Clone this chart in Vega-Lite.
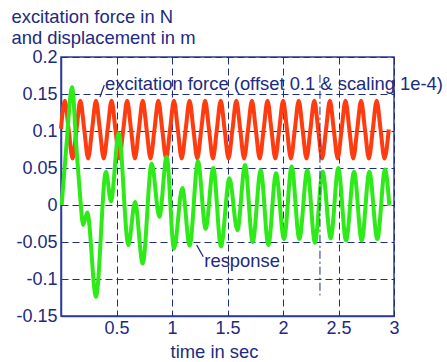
{
  "$schema": "https://vega.github.io/schema/vega-lite/v6.json",
  "width": 333,
  "height": 259,
  "autosize": {"type": "none"},
  "padding": {"left": 61, "top": 57, "right": 53, "bottom": 46},
  "background": "white",
  "config": {
    "font": "Liberation Sans",
    "view": {"stroke": "#2e3d94", "strokeWidth": 1.5}
  },
  "datasets": {
    "force": [
      {"t": 0.0, "v": 0.103},
      {"t": 0.034, "v": 0.141}, {"t": 0.069, "v": 0.102}, {"t": 0.104, "v": 0.063}, {"t": 0.1395, "v": 0.102},
      {"t": 0.1745, "v": 0.141}, {"t": 0.2095, "v": 0.102}, {"t": 0.2445, "v": 0.063}, {"t": 0.28, "v": 0.102},
      {"t": 0.315, "v": 0.141}, {"t": 0.35, "v": 0.102}, {"t": 0.385, "v": 0.063}, {"t": 0.4205, "v": 0.102},
      {"t": 0.4555, "v": 0.141}, {"t": 0.4905, "v": 0.102}, {"t": 0.5255, "v": 0.063}, {"t": 0.561, "v": 0.102},
      {"t": 0.596, "v": 0.141}, {"t": 0.631, "v": 0.102}, {"t": 0.666, "v": 0.063}, {"t": 0.7015, "v": 0.102},
      {"t": 0.7365, "v": 0.141}, {"t": 0.7715, "v": 0.102}, {"t": 0.8065, "v": 0.063}, {"t": 0.842, "v": 0.102},
      {"t": 0.877, "v": 0.141}, {"t": 0.912, "v": 0.102}, {"t": 0.947, "v": 0.063}, {"t": 0.9825, "v": 0.102},
      {"t": 1.0175, "v": 0.141}, {"t": 1.0525, "v": 0.102}, {"t": 1.0875, "v": 0.063}, {"t": 1.123, "v": 0.102},
      {"t": 1.158, "v": 0.141}, {"t": 1.193, "v": 0.102}, {"t": 1.228, "v": 0.063}, {"t": 1.2635, "v": 0.102},
      {"t": 1.2985, "v": 0.141}, {"t": 1.3335, "v": 0.102}, {"t": 1.3685, "v": 0.063}, {"t": 1.404, "v": 0.102},
      {"t": 1.439, "v": 0.141}, {"t": 1.474, "v": 0.102}, {"t": 1.509, "v": 0.063}, {"t": 1.5445, "v": 0.102},
      {"t": 1.5795, "v": 0.141}, {"t": 1.6145, "v": 0.102}, {"t": 1.6495, "v": 0.063}, {"t": 1.685, "v": 0.102},
      {"t": 1.72, "v": 0.141}, {"t": 1.755, "v": 0.102}, {"t": 1.79, "v": 0.063}, {"t": 1.8255, "v": 0.102},
      {"t": 1.8605, "v": 0.141}, {"t": 1.8955, "v": 0.102}, {"t": 1.9305, "v": 0.063}, {"t": 1.966, "v": 0.102},
      {"t": 2.001, "v": 0.141}, {"t": 2.036, "v": 0.102}, {"t": 2.071, "v": 0.063}, {"t": 2.1065, "v": 0.102},
      {"t": 2.1415, "v": 0.141}, {"t": 2.1765, "v": 0.102}, {"t": 2.2115, "v": 0.063}, {"t": 2.247, "v": 0.102},
      {"t": 2.282, "v": 0.141}, {"t": 2.317, "v": 0.102}, {"t": 2.352, "v": 0.063}, {"t": 2.3875, "v": 0.102},
      {"t": 2.4225, "v": 0.141}, {"t": 2.4575, "v": 0.102}, {"t": 2.4925, "v": 0.063}, {"t": 2.528, "v": 0.102},
      {"t": 2.563, "v": 0.141}, {"t": 2.598, "v": 0.102}, {"t": 2.633, "v": 0.063}, {"t": 2.6685, "v": 0.102},
      {"t": 2.7035, "v": 0.141}, {"t": 2.7385, "v": 0.102}, {"t": 2.7735, "v": 0.063}, {"t": 2.809, "v": 0.102},
      {"t": 2.844, "v": 0.141}, {"t": 2.879, "v": 0.102}, {"t": 2.914, "v": 0.063}, {"t": 2.953, "v": 0.102}
    ],
    "resp": [
      {"t": 0.006, "v": 0.0}, {"t": 0.048, "v": 0.079}, {"t": 0.1, "v": 0.159}, {"t": 0.138, "v": 0.079},
      {"t": 0.168, "v": 0.02}, {"t": 0.2, "v": -0.027}, {"t": 0.237, "v": -0.01}, {"t": 0.315, "v": -0.124},
      {"t": 0.405, "v": 0.045}, {"t": 0.45, "v": 0.005}, {"t": 0.52, "v": 0.097}, {"t": 0.607, "v": -0.054},
      {"t": 0.667, "v": 0.004}, {"t": 0.736, "v": -0.079}, {"t": 0.817, "v": 0.056}, {"t": 0.886, "v": -0.016},
      {"t": 0.952, "v": 0.065}, {"t": 1.018, "v": -0.059}, {"t": 1.093, "v": 0.023}, {"t": 1.159, "v": -0.055},
      {"t": 1.234, "v": 0.059}, {"t": 1.303, "v": -0.032}, {"t": 1.372, "v": 0.05}, {"t": 1.441, "v": -0.056},
      {"t": 1.517, "v": 0.036}, {"t": 1.589, "v": -0.034}, {"t": 1.658, "v": 0.054}, {"t": 1.727, "v": -0.05},
      {"t": 1.799, "v": 0.047}, {"t": 1.868, "v": -0.054}, {"t": 1.937, "v": 0.043}, {"t": 2.009, "v": -0.046},
      {"t": 2.078, "v": 0.052}, {"t": 2.147, "v": -0.046}, {"t": 2.219, "v": 0.047}, {"t": 2.288, "v": -0.051},
      {"t": 2.357, "v": 0.045}, {"t": 2.43, "v": -0.045}, {"t": 2.498, "v": 0.05}, {"t": 2.568, "v": -0.048},
      {"t": 2.64, "v": 0.045}, {"t": 2.709, "v": -0.048}, {"t": 2.778, "v": 0.045}, {"t": 2.85, "v": -0.046},
      {"t": 2.919, "v": 0.048}, {"t": 2.958, "v": -0.001}
    ],
    "leaders": [
      {"t": 0.351, "v": 0.146, "t2": 0.39, "v2": 0.162},
      {"t": 1.222, "v": -0.054, "t2": 1.282, "v2": -0.07}
    ],
    "cursor": [{"t": 2.333, "v": 0.176, "v2": -0.122}],
    "notes": [
      {"t": 0.396, "v": 0.1554, "label": "excitation force (offset 0.1 & scaling 1e-4)"},
      {"t": 1.291, "v": -0.0834, "label": "response"}
    ]
  },
  "encoding": {
    "x": {
      "field": "t", "type": "quantitative",
      "scale": {"domain": [0, 3], "nice": false, "zero": false},
      "axis": {
        "values": [0.5, 1, 1.5, 2, 2.5, 3],
        "labelExpr": "datum.value + ''",
        "grid": true, "gridDash": [7, 4], "gridColor": "#1f2d80", "gridOpacity": 1, "gridWidth": 1,
        "ticks": false, "domainColor": "#2e3d94", "domainWidth": 1.5,
        "labelFontSize": 18, "labelColor": "#1c2a80", "labelPadding": 3, "labelFlush": false,
        "title": "time in sec", "titleFontSize": 18.4, "titleFontWeight": "normal", "titleColor": "#1c2a80",
        "titleX": 153, "titleY": 41, "titleAlign": "center", "titleBaseline": "alphabetic"
      }
    },
    "y": {
      "field": "v", "type": "quantitative",
      "scale": {"domain": [-0.15, 0.2], "nice": false, "zero": false},
      "axis": {
        "values": [-0.15, -0.1, -0.05, 0, 0.05, 0.1, 0.15, 0.2],
        "labelExpr": "datum.value + ''",
        "grid": true, "gridDash": [7, 4], "gridColor": "#1f2d80", "gridOpacity": 1, "gridWidth": 1,
        "ticks": false, "domainColor": "#2e3d94", "domainWidth": 1.5,
        "labelFontSize": 18, "labelColor": "#1c2a80", "labelPadding": 4, "labelFlush": false,
        "title": ["excitation force in N", "and displacement in m"],
        "titleFontSize": 18.4, "titleFontWeight": "normal", "titleColor": "#1c2a80",
        "titleAngle": 0, "titleAlign": "left", "titleBaseline": "alphabetic",
        "titleX": -50, "titleY": -35, "titleLineHeight": 21.6
      }
    }
  },
  "layer": [
    {"data": {"name": "force"}, "mark": {"type": "line", "color": "#ff3b10", "strokeWidth": 4, "interpolate": "monotone"}},
    {"data": {"name": "resp"}, "mark": {"type": "line", "color": "#2eea18", "strokeWidth": 4, "interpolate": "monotone"}},
    {"data": {"name": "leaders"}, "mark": {"type": "rule", "color": "#1c2a80", "strokeWidth": 1.3},
     "encoding": {"x2": {"field": "t2"}, "y2": {"field": "v2"}}},
    {"data": {"name": "cursor"}, "mark": {"type": "rule", "color": "#1f2d80", "strokeWidth": 1, "strokeDash": [8, 3, 2, 3]},
     "encoding": {"y2": {"field": "v2"}}},
    {"data": {"name": "notes"}, "mark": {"type": "text", "align": "left", "baseline": "alphabetic", "fontSize": 18.4, "color": "#1c2a80"},
     "encoding": {"text": {"field": "label"}}}
  ]
}
